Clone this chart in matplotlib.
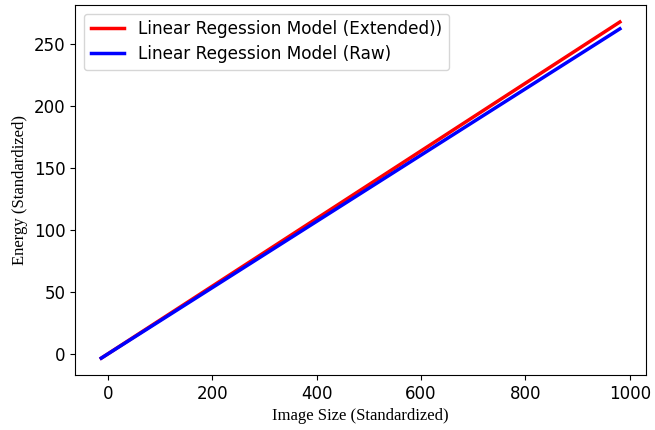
import matplotlib
matplotlib.use("Agg")
import matplotlib.pyplot as plt

# endpoints of the two fitted regression lines
x_ext = [-13, 981]
y_ext = [-3.2, 267.5]
x_raw = [-13, 981]
y_raw = [-3.2, 262]

fig, ax = plt.subplots(figsize=(6.55, 4.3), dpi=100)
ax.plot(x_ext, y_ext, color="red", lw=2.5, label="Linear Regession Model (Extended))")
ax.plot(x_raw, y_raw, color="blue", lw=2.5, label="Linear Regession Model (Raw)")

ax.set_xlabel("Image Size (Standardized)", family="Liberation Serif", fontsize=12)
ax.set_ylabel("Energy (Standardized)", family="Liberation Serif", fontsize=12)
ax.tick_params(labelsize=12)
ax.legend(fontsize=12.2, loc="upper left", handlelength=2.0, labelspacing=0.4)

fig.subplots_adjust(left=0.115, right=0.986, top=0.988, bottom=0.128)
fig.savefig("out.png")
